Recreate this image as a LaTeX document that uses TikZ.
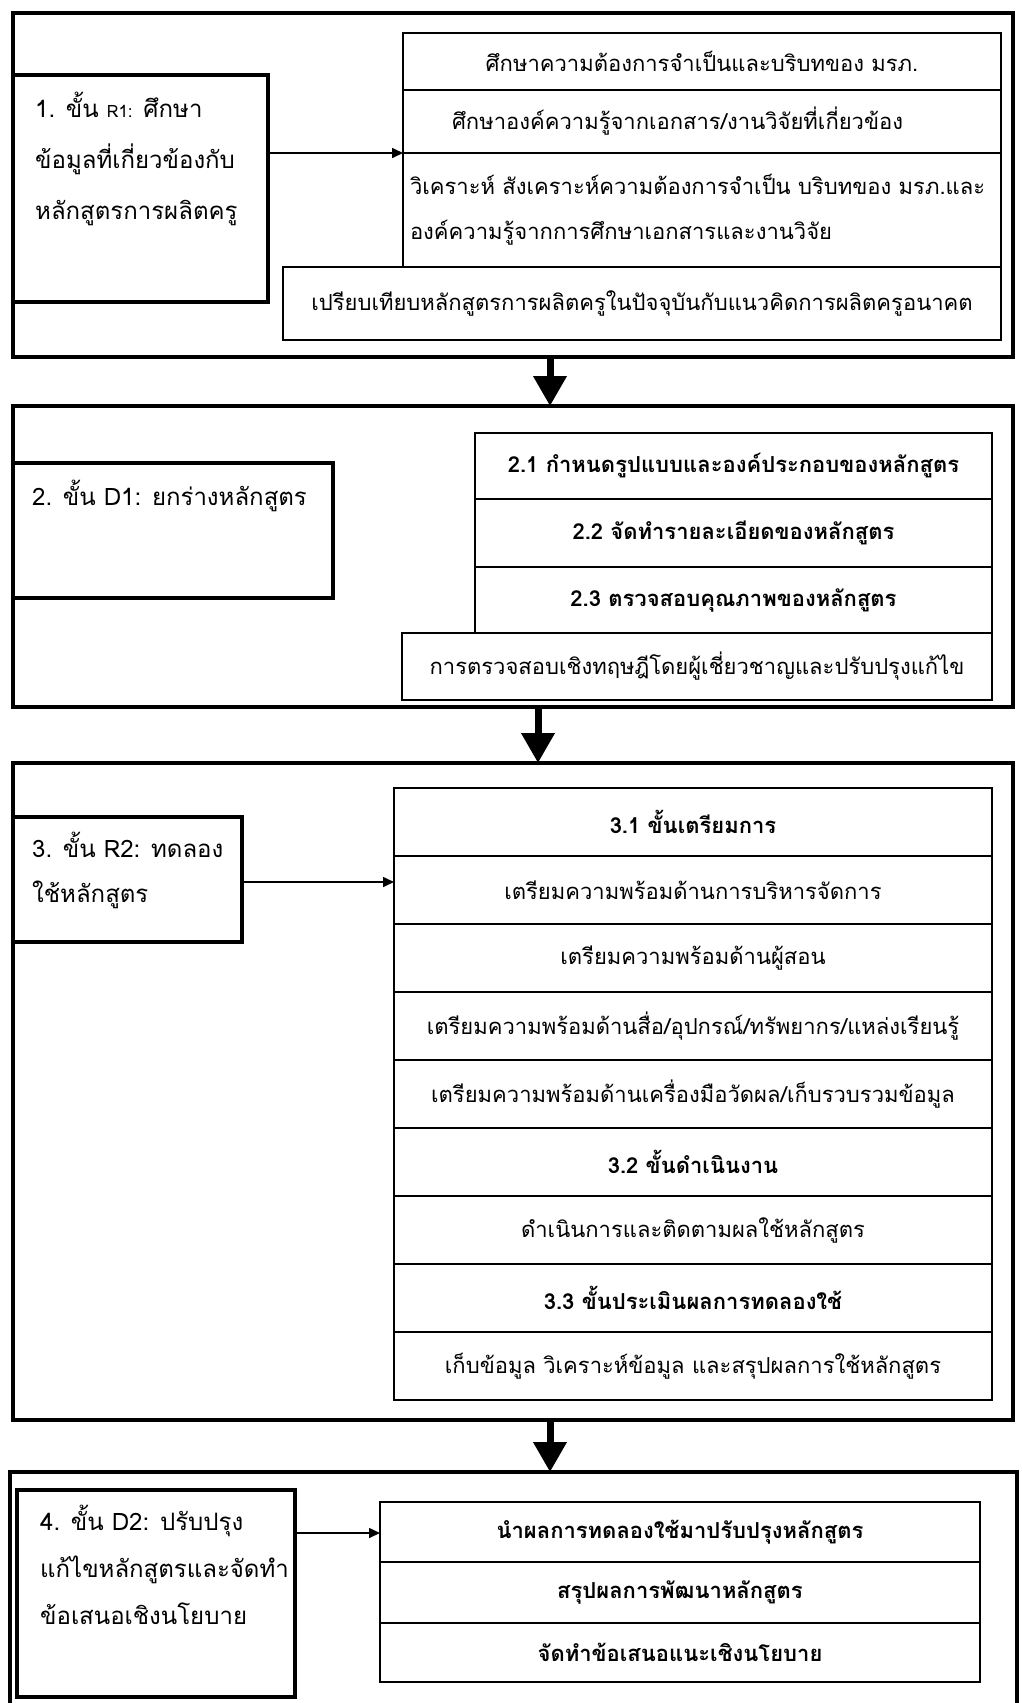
\documentclass[tikz,border=0pt]{standalone}
\usepackage{fontspec}
\newfontfamily\thaifont[Script=Thai]{Loma}
\usetikzlibrary{positioning,arrows.meta}

\tikzset{
  stageframe/.style={draw, line width=4.5pt, inner sep=0pt, outer sep=0pt, anchor=north west},
  stagebox/.style={draw, line width=4.5pt, inner sep=0pt, outer sep=0pt, anchor=north west},
  stagetext/.style={align=left, inner sep=0pt, anchor=north west, font=\thaifont\fontsize{24}{47}\selectfont},
  rowbox/.style={draw, line width=1.6pt, inner ysep=0pt, inner xsep=0pt, outer sep=0pt, align=center, font=\thaifont\fontsize{22}{45}\selectfont},
  rowhead/.style={rowbox, font=\thaifont\bfseries\fontsize{22}{45}\selectfont},
  flow/.style={-{Triangle[length=30pt,width=32pt]}, line width=7pt},
  link/.style={-{Triangle[length=11pt,width=10pt]}, line width=1.6pt},
}

\begin{document}
\begin{tikzpicture}[x=1pt,y=-1pt]
\useasboundingbox (0,0) rectangle (1021,1703);

% outer frames
\node[stageframe, minimum width=1000pt, minimum height=344pt] (f1) at (13,13) {};
\node[stageframe, minimum width=1000pt, minimum height=301pt] (f2) at (13,406) {};
\node[stageframe, minimum width=1000pt, minimum height=657pt] (f3) at (13,763) {};
\node[stageframe, minimum width=1007pt, minimum height=300pt] (f4) at (10,1472) {};

% stage 1
\node[stagebox, minimum width=255pt, minimum height=227pt] (b1) at (13,75) {};
\node[stagetext, below right=17pt and 22pt of b1.north west, font=\thaifont\fontsize{24}{51}\selectfont] (b1t)
  {1. ขั้น {\fontsize{17}{17}\selectfont R1:} ศึกษา\\ข้อมูลที่เกี่ยวข้องกับ\\หลักสูตรการผลิตครู};
\node[rowbox, text width=598pt, minimum height=57pt, anchor=north] (r1a) at (702,33)
  {ศึกษาความต้องการจำเป็นและบริบทของ มรภ.};
\node[rowbox, text width=500pt, inner xsep=49pt, align=left, minimum height=63pt, below=0pt of r1a] (r1b)
  {ศึกษาองค์ความรู้จากเอกสาร/งานวิจัยที่เกี่ยวข้อง};
\node[rowbox, text width=584pt, inner xsep=7pt, align=left, minimum height=114pt, below=0pt of r1b] (r1c)
  {วิเคราะห์ สังเคราะห์ความต้องการจำเป็น บริบทของ มรภ.และ\\องค์ความรู้จากการศึกษาเอกสารและงานวิจัย};
\node[rowbox, text width=718pt, minimum height=73pt, below left=0pt and 0pt of r1c.south east] (r1d)
  {เปรียบเทียบหลักสูตรการผลิตครูในปัจจุบันกับแนวคิดการผลิตครูอนาคต};
\draw[link] (b1.east |- r1c.north west) -- (r1c.north west);

% stage 2
\node[stagebox, minimum width=320pt, minimum height=135pt] (b2) at (13,463) {};
\node[stagetext, below right=17pt and 19pt of b2.north west] (b2t) {2. ขั้น D1: ยกร่างหลักสูตร};
\node[rowhead, text width=517pt, minimum height=66pt, anchor=north] (r2a) at (733.5,433)
  {2.1 กำหนดรูปแบบและองค์ประกอบของหลักสูตร};
\node[rowhead, text width=517pt, minimum height=68pt, below=0pt of r2a] (r2b)
  {2.2 จัดทำรายละเอียดของหลักสูตร};
\node[rowhead, text width=517pt, minimum height=66pt, below=0pt of r2b] (r2c)
  {2.3 ตรวจสอบคุณภาพของหลักสูตร};
\node[rowbox, text width=590pt, minimum height=67pt, below left=0pt and 0pt of r2c.south east] (r2d)
  {การตรวจสอบเชิงทฤษฎีโดยผู้เชี่ยวชาญและปรับปรุงแก้ไข};

% stage 3
\node[stagebox, minimum width=229pt, minimum height=125pt] (b3) at (13,817) {};
\node[stagetext, below right=15pt and 19pt of b3.north west, font=\thaifont\fontsize{24}{45}\selectfont] (b3t)
  {3. ขั้น R2: ทดลอง\\ใช้หลักสูตร};
\node[rowhead, text width=598pt, minimum height=68pt, anchor=north] (r3a) at (693,788) {3.1 ขั้นเตรียมการ};
\node[rowbox, text width=598pt, minimum height=68pt, below=0pt of r3a] (r3b) {เตรียมความพร้อมด้านการบริหารจัดการ};
\node[rowbox, text width=598pt, minimum height=68pt, below=0pt of r3b] (r3c) {เตรียมความพร้อมด้านผู้สอน};
\node[rowbox, text width=598pt, minimum height=68pt, below=0pt of r3c] (r3d) {เตรียมความพร้อมด้านสื่อ/อุปกรณ์/ทรัพยากร/แหล่งเรียนรู้};
\node[rowbox, text width=598pt, minimum height=68pt, below=0pt of r3d] (r3e) {เตรียมความพร้อมด้านเครื่องมือวัดผล/เก็บรวบรวมข้อมูล};
\node[rowhead, text width=598pt, minimum height=68pt, below=0pt of r3e] (r3f) {3.2 ขั้นดำเนินงาน};
\node[rowbox, text width=598pt, minimum height=68pt, below=0pt of r3f] (r3g) {ดำเนินการและติดตามผลใช้หลักสูตร};
\node[rowhead, text width=598pt, minimum height=68pt, below=0pt of r3g] (r3h) {3.3 ขั้นประเมินผลการทดลองใช้};
\node[rowbox, text width=598pt, minimum height=68pt, below=0pt of r3h] (r3i) {เก็บข้อมูล วิเคราะห์ข้อมูล และสรุปผลการใช้หลักสูตร};
\coordinate (k3) at (394,882);
\draw[link] (b3.east |- k3) -- (k3);

% stage 4
\node[stagebox, minimum width=278pt, minimum height=207pt] (b4) at (17,1490) {};
\node[stagetext, below right=15pt and 23pt of b4.north west] (b4t)
  {4. ขั้น D2: ปรับปรุง\\แก้ไขหลักสูตรและจัดทำ\\ข้อเสนอเชิงนโยบาย};
\node[rowhead, text width=600pt, minimum height=60pt, anchor=north] (r4a) at (680,1502) {นำผลการทดลองใช้มาปรับปรุงหลักสูตร};
\node[rowhead, text width=600pt, minimum height=61pt, below=0pt of r4a] (r4b) {สรุปผลการพัฒนาหลักสูตร};
\node[rowhead, text width=600pt, minimum height=59pt, below=0pt of r4b] (r4c) {จัดทำข้อเสนอแนะเชิงนโยบาย};
\coordinate (k4) at (380,1533);
\draw[link] (b4.east |- k4) -- (k4);

% flow between stages
\coordinate (c1) at (550,0);
\coordinate (c2) at (538,0);
\draw[flow] (f1.south -| c1) -- (f2.north -| c1);
\draw[flow] (f2.south -| c2) -- (f3.north -| c2);
\draw[flow] (f3.south -| c1) -- (f4.north -| c1);
\end{tikzpicture}
\end{document}
